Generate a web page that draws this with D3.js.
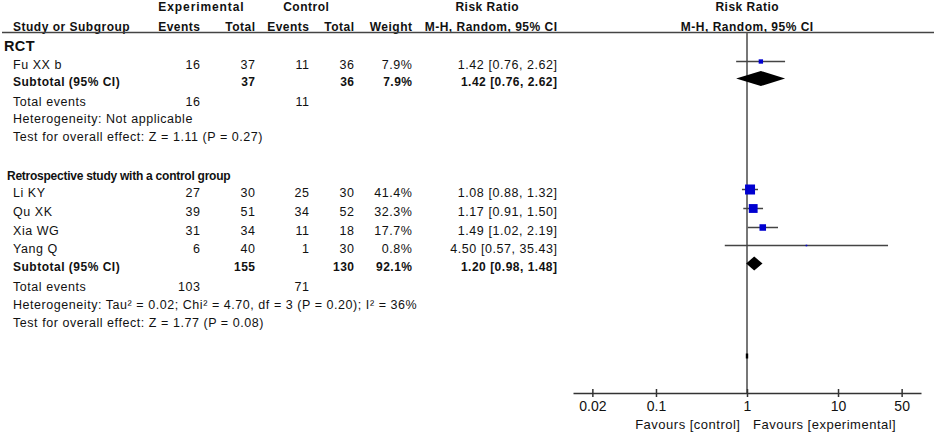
<!DOCTYPE html>
<html><head><meta charset="utf-8">
<script src="https://cdn.jsdelivr.net/npm/d3@7"></script>
<style>
html,body{margin:0;padding:0;background:#fff;}
svg text{font-family:"Liberation Sans",Arial,sans-serif;fill:#111;}
</style></head>
<body><svg id="c" width="934" height="433"></svg>
<script>
// ---------- data ----------
const groups = ["RCT", "Retrospective study with a control group"];
const studies = ["Fu XX b", "Li KY", "Qu XK", "Xia WG", "Yang Q"];
const studyGroup = [0, 1, 1, 1, 1];
const expEvents = [16, 27, 39, 31, 6];
const expTotal = [37, 30, 51, 34, 40];
const ctrlEvents = [11, 25, 34, 11, 1];
const ctrlTotal = [36, 30, 52, 18, 30];
const weight = [7.9, 41.4, 32.3, 17.7, 0.8];
const rr = [1.42, 1.08, 1.17, 1.49, 4.50];
const rrLo = [0.76, 0.88, 0.91, 1.02, 0.57];
const rrHi = [2.62, 1.32, 1.50, 2.19, 35.43];
const subExpTotal = [37, 155];
const subCtrlTotal = [36, 130];
const subWeight = [7.9, 92.1];
const subRR = [1.42, 1.20];
const subLo = [0.76, 0.98];
const subHi = [2.62, 1.48];
const subExpEvents = [16, 103];
const subCtrlEvents = [11, 71];
const heterogeneity = ["Heterogeneity: Not applicable",
  "Heterogeneity: Tau\u00b2 = 0.02; Chi\u00b2 = 4.70, df = 3 (P = 0.20); I\u00b2 = 36%"];
const overallTest = ["Test for overall effect: Z = 1.11 (P = 0.27)",
  "Test for overall effect: Z = 1.77 (P = 0.08)"];
const tickValues = [0.02, 0.1, 1, 10, 50];
const tickLabels = ["0.02", "0.1", "1", "10", "50"];
const favours = ["Favours [control]", "Favours [experimental]"];

// ---------- layout ----------
const svg = d3.select("#c");
svg.append("rect").attr("width", 934).attr("height", 433).attr("fill", "#fff");

const rowKeys = ["h1","h2","g0","s0","sub0","te0","het0","test0",
                 "g1","s1","s2","s3","s4","sub1","te1","het1","test1","overall"];
const rowPos =  [7, 27, 47, 65, 82, 102, 119, 137,
                 176, 193, 212, 231, 249, 267, 287, 305, 323, 359];
const y = d3.scaleOrdinal().domain(rowKeys).range(rowPos);
const x = d3.scaleLog().domain([0.012255, 81.6]).range([573, 921]);
const wSize = d3.scaleSqrt().domain([0, 41.4]).range([0, 10]);

const colX = {name: 13, ee: 200, et: 255, ce: 309, ct: 354, w: 412, rr: 557};
const base = 4.4; // text baseline offset from row centre
const markOff = -3.5;
const fmt2 = d3.format(".2f");
const ciText = (e, l, h) => `${fmt2(e)} [${fmt2(l)}, ${fmt2(h)}]`;

function txt(xp, key, s, opts = {}) {
  const ls = opts.ls !== undefined ? opts.ls : (opts.bold ? 0.5 : 0.55);
  const anchor = opts.anchor || "start";
  const xx = anchor === "end" ? xp + ls : (anchor === "middle" ? xp + ls / 2 : xp);
  return svg.append("text")
    .attr("x", xx).attr("y", y(key) + base)
    .attr("font-size", opts.size || (opts.bold ? 12 : 12.5))
    .attr("font-weight", opts.bold ? "bold" : "normal")
    .attr("letter-spacing", ls)
    .attr("text-anchor", anchor)
    .text(s);
}

// headers
txt(201, "h1", "Experimental", {bold: true, anchor: "middle", ls: 0.9});
txt(306, "h1", "Control", {bold: true, anchor: "middle"});
txt(487, "h1", "Risk Ratio", {bold: true, anchor: "middle"});
txt(x(1), "h1", "Risk Ratio", {bold: true, anchor: "middle"});
txt(13, "h2", "Study or Subgroup", {bold: true});
txt(colX.ee, "h2", "Events", {bold: true, anchor: "end"});
txt(colX.et, "h2", "Total", {bold: true, anchor: "end"});
txt(colX.ce, "h2", "Events", {bold: true, anchor: "end"});
txt(colX.ct, "h2", "Total", {bold: true, anchor: "end"});
txt(colX.w, "h2", "Weight", {bold: true, anchor: "end"});
txt(colX.rr, "h2", "M-H, Random, 95% CI", {bold: true, anchor: "end"});
txt(x(1), "h2", "M-H, Random, 95% CI", {bold: true, anchor: "middle"});

svg.append("line").attr("x1", 2).attr("x2", 934).attr("y1", 32.5).attr("y2", 32.5)
  .attr("stroke", "#444").attr("stroke-width", 1.5);

// group labels
txt(4, "g0", groups[0], {bold: true, size: 14.5, ls: 0.4});
txt(7, "g1", groups[1], {bold: true, size: 12, ls: -0.25});

// study rows
studies.forEach((s, i) => {
  const k = "s" + i;
  txt(colX.name, k, s);
  txt(colX.ee, k, expEvents[i], {anchor: "end"});
  txt(colX.et, k, expTotal[i], {anchor: "end"});
  txt(colX.ce, k, ctrlEvents[i], {anchor: "end"});
  txt(colX.ct, k, ctrlTotal[i], {anchor: "end"});
  txt(colX.w, k, weight[i].toFixed(1) + "%", {anchor: "end"});
  txt(colX.rr, k, ciText(rr[i], rrLo[i], rrHi[i]), {anchor: "end"});
});

// subtotal rows
groups.forEach((g, j) => {
  txt(colX.name, "sub" + j, "Subtotal (95% CI)", {bold: true});
  txt(colX.et, "sub" + j, subExpTotal[j], {bold: true, anchor: "end"});
  txt(colX.ct, "sub" + j, subCtrlTotal[j], {bold: true, anchor: "end"});
  txt(colX.w, "sub" + j, subWeight[j].toFixed(1) + "%", {bold: true, anchor: "end"});
  txt(colX.rr, "sub" + j, ciText(subRR[j], subLo[j], subHi[j]), {bold: true, anchor: "end"});
  txt(colX.name, "te" + j, "Total events");
  txt(colX.ee, "te" + j, subExpEvents[j], {anchor: "end"});
  txt(colX.ce, "te" + j, subCtrlEvents[j], {anchor: "end"});
  txt(colX.name, "het" + j, heterogeneity[j]);
  txt(colX.name, "test" + j, overallTest[j]);
});

// reference line at 1
svg.append("line").attr("x1", x(1)).attr("x2", x(1)).attr("y1", 32.5).attr("y2", 393)
  .attr("stroke", "#555").attr("stroke-width", 1.6);

// CI lines + squares
const plot = svg.append("g");
plot.selectAll("line.ci").data(studies).join("line").attr("class", "ci")
  .attr("x1", (d, i) => x(rrLo[i])).attr("x2", (d, i) => x(rrHi[i]))
  .attr("y1", (d, i) => y("s" + i) + markOff).attr("y2", (d, i) => y("s" + i) + markOff)
  .attr("stroke", "#444").attr("stroke-width", 1.5);
plot.selectAll("rect.pt").data(studies).join("rect").attr("class", "pt")
  .each(function (d, i) {
    const sz = Math.max(1.6, wSize(weight[i]));
    d3.select(this).attr("x", x(rr[i]) - sz / 2).attr("y", y("s" + i) + markOff - sz / 2)
      .attr("width", sz).attr("height", sz);
  })
  .attr("fill", "#0000d0");

// subtotal diamonds
const halfH = [7.5, 7];
plot.selectAll("path.dia").data(groups).join("path").attr("class", "dia")
  .attr("d", (d, j) => {
    const cy = y("sub" + j) + markOff;
    return `M${x(subLo[j])},${cy}L${x(subRR[j])},${cy - halfH[j]}L${x(subHi[j])},${cy}L${x(subRR[j])},${cy + halfH[j]}Z`;
  })
  .attr("fill", "#000");

// tiny overall marker on the reference line
plot.append("rect").attr("x", x(1) - 1.2).attr("y", y("overall") - 5.5)
  .attr("width", 2.4).attr("height", 5).attr("fill", "#000");

// axis
const ax = svg.append("g").attr("transform", "translate(0,393)")
  .call(d3.axisBottom(x).tickValues(tickValues)
    .tickFormat((d, i) => tickLabels[i]).tickSize(4).tickSizeOuter(0));
ax.select(".domain").attr("stroke", "#333").attr("stroke-width", 1.5);
ax.selectAll(".tick line").attr("y1", -4).attr("y2", 4).attr("stroke", "#333").attr("stroke-width", 1.5);
ax.selectAll(".tick text").attr("y", 8).attr("font-size", 14)
  .attr("font-family", "'Liberation Sans',Arial,sans-serif").attr("fill", "#111");

svg.append("text").attr("x", 740.5).attr("y", 429).attr("font-size", 13).attr("letter-spacing", 0.5)
  .attr("text-anchor", "end").text(favours[0]);
svg.append("text").attr("x", 753).attr("y", 429).attr("font-size", 13).attr("letter-spacing", 0.5)
  .attr("text-anchor", "start").text(favours[1]);
</script></body></html>
